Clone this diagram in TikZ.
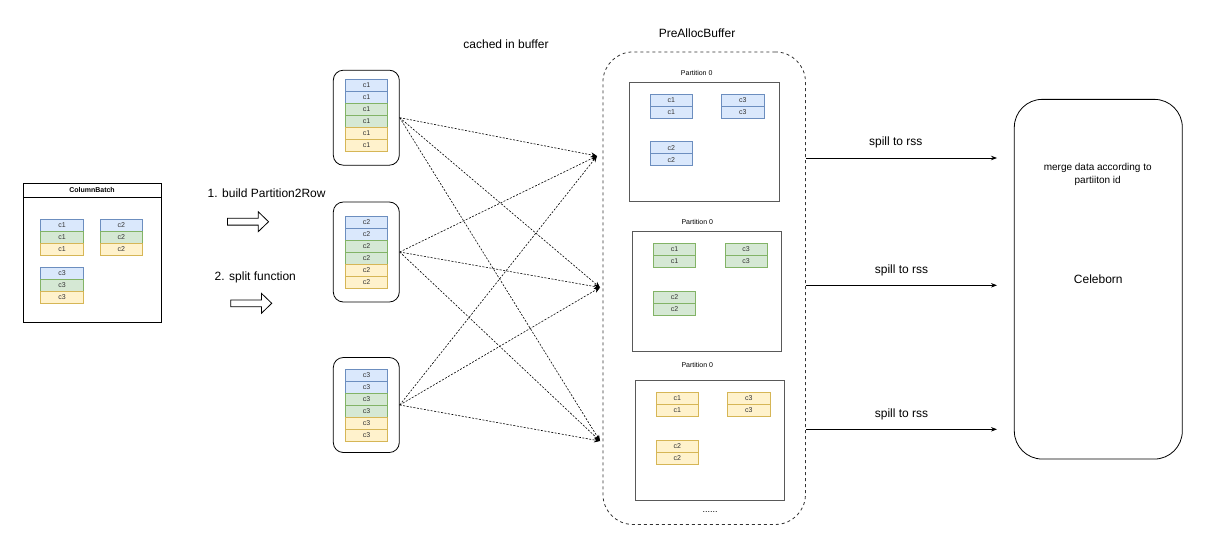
\documentclass[tikz,border=0pt]{standalone}
\usepackage{fontspec}
\setmainfont{Liberation Sans}
\usetikzlibrary{shapes.arrows, arrows.meta}

\definecolor{bluefill}{HTML}{DAE8FC}
\definecolor{blueline}{HTML}{6C8EBF}
\definecolor{greenfill}{HTML}{D5E8D4}
\definecolor{greenline}{HTML}{82B366}
\definecolor{yellowfill}{HTML}{FFF2CC}
\definecolor{yellowline}{HTML}{D6B656}

\begin{document}
\begin{tikzpicture}[x=1pt, y=-1pt, line width=0.8pt,
        font=\fontsize{12}{14}\selectfont,
        tiny/.style={font=\fontsize{7}{8}\selectfont},
        cell/.style={draw=#1line, fill=#1fill, tiny, text=black!80, inner sep=0pt,
            minimum width=42.5pt, minimum height=12pt, line width=0.7pt},
        group/.style={draw, rounded corners=10pt, minimum width=66pt},
        part/.style={draw=black!65, minimum width=149.5pt, minimum height=119.5pt},
        hollow/.style={draw, single arrow, single arrow head extend=6.5pt,
            single arrow tip angle=88, minimum height=41pt, minimum width=19pt,
            inner xsep=0pt, inner ysep=3pt},
        scatter/.style={dash pattern=on 2pt off 1.5pt, line width=0.6pt,
            -{Stealth[length=6pt,width=5pt]}},
        spill/.style={-{Stealth[length=6pt,width=4.5pt]}}]
                \useasboundingbox (0,0) rectangle (1230,546);

                % column batch
                \node[draw, minimum width=138pt, minimum height=139pt] (batch) at (92,252.5) {};
                \node[draw, minimum width=138pt, minimum height=14pt, anchor=north,
                    font=\fontsize{7}{8}\selectfont\bfseries] (batchtitle) at (batch.north) {ColumnBatch};
                \foreach \n/\x/\y in {c1/62/225.3, c2/121.3/225.3, c3/62/273.3} {
                    \node[cell=blue] (\n-b) at (\x,\y) {\n};
                    \node[cell=green] (\n-g) at (\x,\y+12) {\n};
                    \node[cell=yellow] (\n-y) at (\x,\y+24) {\n};
                }

                \node[anchor=west] (step1) at (204,193) {1. build Partition2Row};
                \node[anchor=west] (step2) at (211,277) {2. split function};
                \node[hollow] (arr1) at (246.3,221.7) {};
                \node[hollow] (arr2) at (249.5,303.3) {};

                % rows cached per column
                \node (cached) at (506,44) {cached in buffer};
                \node[group, minimum height=95pt] (grp1) at (366.3,117.7) {};
                \node[group, minimum height=100pt] (grp2) at (366.3,252) {};
                \node[group, minimum height=95pt] (grp3) at (366.3,405) {};
                \foreach \n/\y in {c1/85, c2/222.3, c3/375} {
                    \node[cell=blue] (\n-1) at (366.5,\y) {\n};
                    \node[cell=blue] (\n-2) at (366.5,\y+12) {\n};
                    \node[cell=green] (\n-3) at (366.5,\y+24) {\n};
                    \node[cell=green] (\n-4) at (366.5,\y+36) {\n};
                    \node[cell=yellow] (\n-5) at (366.5,\y+48) {\n};
                    \node[cell=yellow] (\n-6) at (366.5,\y+60) {\n};
                }

                % buffer
                \node (buftitle) at (697,33) {PreAllocBuffer};
                \node[draw=black!80, dash pattern=on 3pt off 3pt, rounded corners=30pt,
                    minimum width=202.5pt, minimum height=472.5pt] (buffer) at (704.2,288.2) {};
                \node[part] (part1) at (704.2,141.7) {};
                \node[part] (part2) at (707,291.3) {};
                \node[part] (part3) at (710,440.5) {};
                \node[tiny] (plabel1) at (696.7,72.7) {Partition 0};
                \node[tiny] (plabel2) at (697.3,222.3) {Partition 0};
                \node[tiny] (plabel3) at (697.3,365) {Partition 0};
                \foreach \c/\x/\y/\k in {blue/671.2/100/1, green/674.5/249.3/2, yellow/677.2/398.3/3} {
                    \node[cell=\c] (p\k-c1a) at (\x,\y) {c1};
                    \node[cell=\c] (p\k-c1b) at (\x,\y+12) {c1};
                    \node[cell=\c] (p\k-c3a) at (\x+71.6,\y) {c3};
                    \node[cell=\c] (p\k-c3b) at (\x+71.6,\y+12) {c3};
                    \node[cell=\c] (p\k-c2a) at (\x,\y+47.7) {c2};
                    \node[cell=\c] (p\k-c2b) at (\x,\y+59.7) {c2};
                }
                \node[font=\fontsize{9}{10}\selectfont] (dots) at (710,512) {......};

                \coordinate (in1) at (597,156);
                \coordinate (in2) at (600,287.5);
                \coordinate (in3) at (600,441);
                \path[scatter]
                    (grp1.east) edge (in1) edge (in2) edge (in3)
                    (grp2.east) edge (in1) edge (in2) edge (in3)
                    (grp3.east) edge (in1) edge (in2) edge (in3)
                    ;

                % celeborn
                \node[draw, rounded corners=28pt, minimum width=168pt, minimum height=359.7pt]
                    (celeborn) at (1098.3,279.2) {Celeborn};
                \node[align=center, font=\fontsize{10}{12.7}\selectfont] (merge) at (1097.7,174.3)
                    {merge data according to\\partiiton id};

                \coordinate (sp1) at (806,158);
                \coordinate (sp2) at (806,285.3);
                \coordinate (sp3) at (806,429.3);
                \coordinate (rs1) at (997,158);
                \coordinate (rs2) at (997,285.3);
                \coordinate (rs3) at (997,429.3);
                \path[spill]
                    (sp1) edge node[above=6pt, pos=0.47]{spill to rss} (rs1)
                    (sp2) edge node[above=6pt]{spill to rss} (rs2)
                    (sp3) edge node[above=6pt]{spill to rss} (rs3)
                    ;
            \end{tikzpicture}
\end{document}
